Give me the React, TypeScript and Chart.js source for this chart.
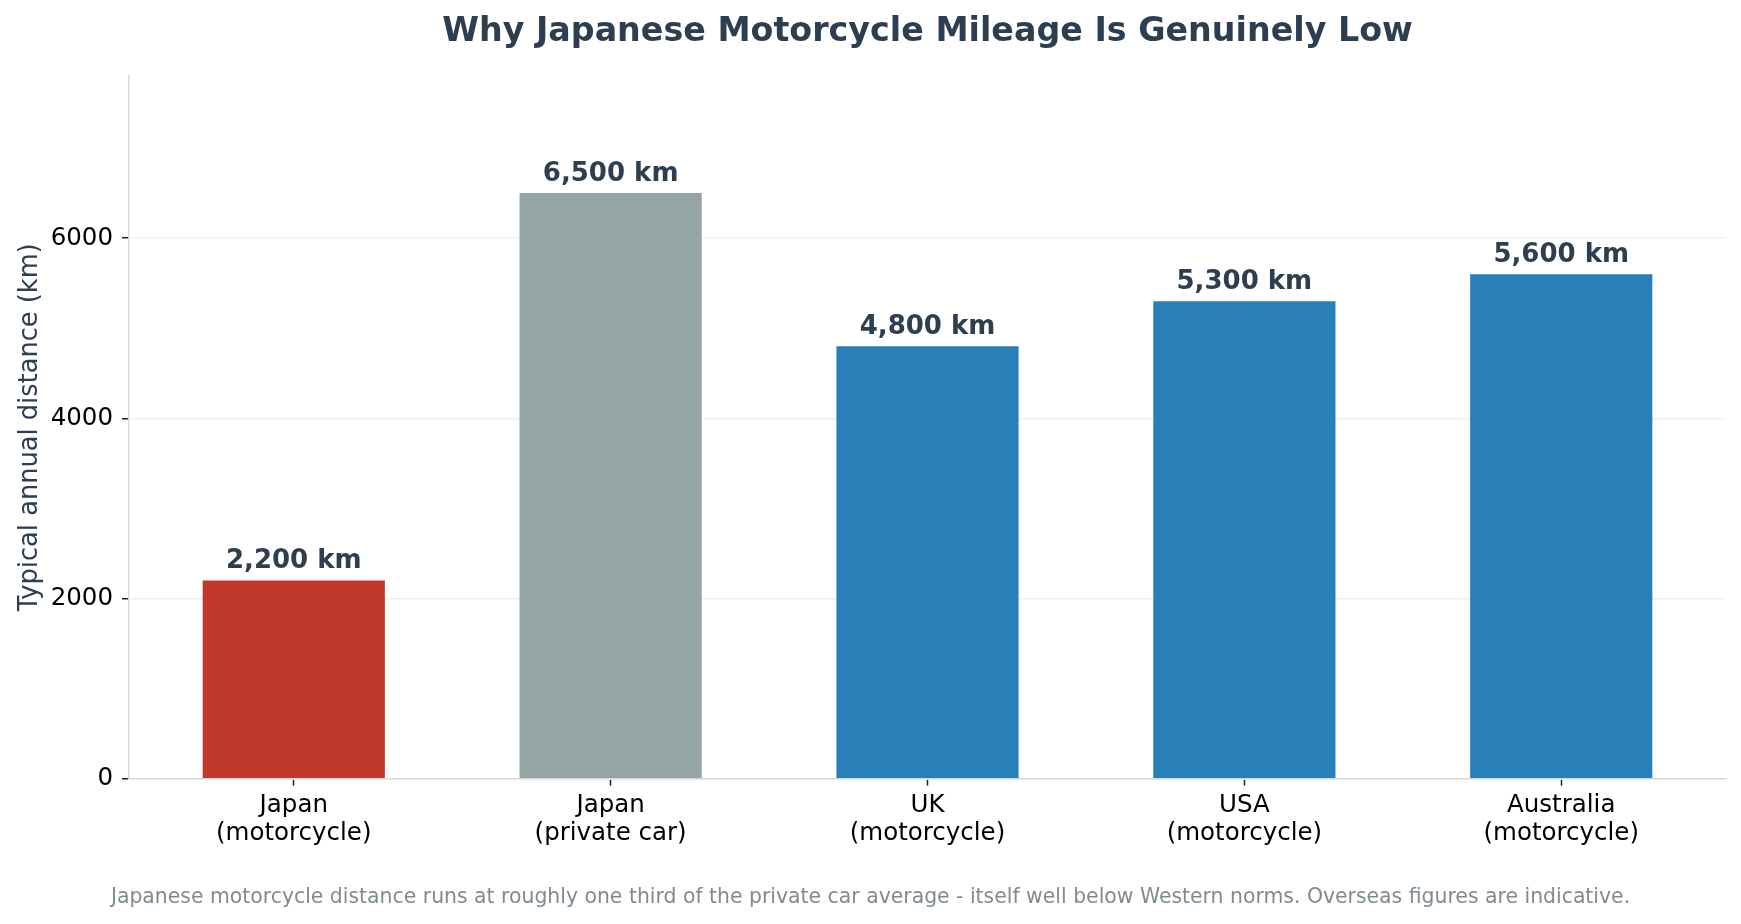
import { useEffect, useRef } from 'react';
import { Chart, registerables } from 'chart.js';

Chart.register(...registerables);

// chart data
const categories: string[][] = [
  ['Japan', '(motorcycle)'],
  ['Japan', '(private car)'],
  ['UK', '(motorcycle)'],
  ['USA', '(motorcycle)'],
  ['Australia', '(motorcycle)'],
];
const distances: number[] = [2200, 6500, 4800, 5300, 5600];
const barColors: string[] = ['#c0392b', '#95a5a6', '#2980b9', '#2980b9', '#2980b9'];
const yTicks: number[] = [0, 2000, 4000, 6000];

const TITLE = 'Why Japanese Motorcycle Mileage Is Genuinely Low';
const FOOTNOTE =
  'Japanese motorcycle distance runs at roughly one third of the private car average - itself well below Western norms. Overseas figures are indicative.';
const FONT = '"DejaVu Sans", sans-serif';

// title centred over the plot area, like the original
const titlePlugin = {
  id: 'plotTitle',
  afterDraw(chart: Chart) {
    const { ctx, chartArea } = chart;
    ctx.save();
    ctx.font = `bold 33.3px ${FONT}`;
    ctx.fillStyle = '#2c3e50';
    ctx.textAlign = 'center';
    ctx.textBaseline = 'middle';
    ctx.fillText(TITLE, (chartArea.left + chartArea.right) / 2, 32);
    ctx.restore();
  },
};

// "x,xxx km" labels above each bar
const valueLabels = {
  id: 'valueLabels',
  afterDatasetsDraw(chart: Chart) {
    const { ctx } = chart;
    const meta = chart.getDatasetMeta(0);
    ctx.save();
    ctx.font = `bold 26px ${FONT}`;
    ctx.fillStyle = '#2c3e50';
    ctx.textAlign = 'center';
    ctx.textBaseline = 'middle';
    meta.data.forEach((bar, i) => {
      const label = `${distances[i].toLocaleString('en-US')} km`;
      ctx.fillText(label, bar.x, bar.y - 19);
    });
    ctx.restore();
  },
};

export default function App() {
  const chartRef = useRef<HTMLCanvasElement>(null);

  useEffect(() => {
    document.body.style.margin = '0';
    if (!chartRef.current) return;

    const chart = new Chart(chartRef.current, {
      type: 'bar',
      data: {
        datasets: [
          {
            data: distances.map((v, i) => ({ x: i, y: v })),
            backgroundColor: barColors,
            borderWidth: 0,
            barPercentage: 0.575,
            categoryPercentage: 1,
          },
        ],
      },
      options: {
        responsive: false,
        animation: false,
        devicePixelRatio: 1,
        layout: {
          padding: { top: 76, right: 15, left: 15, bottom: 0 },
        },
        plugins: {
          legend: { display: false },
          tooltip: { enabled: false },
          title: { display: false },
          subtitle: {
            display: true,
            position: 'bottom',
            text: FOOTNOTE,
            color: '#7f8c8d',
            font: { family: FONT, size: 20.4, weight: 'normal', lineHeight: 1.2 },
            padding: { top: 32.5, bottom: 14 },
          },
        },
        scales: {
          x: {
            type: 'linear',
            min: -0.52,
            max: 4.52,
            offset: false,
            afterBuildTicks: (scale) => {
              scale.ticks = categories.map((_, i) => ({ value: i }));
            },
            grid: {
              display: true,
              offset: false,
              drawOnChartArea: false,
              drawTicks: true,
              tickLength: 7,
              tickColor: '#222222',
              tickWidth: 1.5,
            },
            border: { display: true, color: '#d5dbdb', width: 1.5 },
            ticks: {
              color: '#000000',
              padding: 6,
              font: { family: FONT, size: 24.5, lineHeight: 1.13 },
              maxRotation: 0,
              autoSkip: false,
              callback: (value) => categories[Number(value)] ?? '',
            },
          },
          y: {
            type: 'linear',
            min: 0,
            max: 7800,
            afterFit: (scale) => {
              scale.width = 114;
            },
            afterBuildTicks: (scale) => {
              scale.ticks = yTicks.map((v) => ({ value: v }));
            },
            ticks: {
              color: '#000000',
              padding: 9,
              font: { family: FONT, size: 24.5 },
              callback: (value) => String(value),
            },
            grid: {
              color: '#ecf0f1',
              lineWidth: 1.5,
              tickLength: 7,
              tickColor: '#222222',
              tickWidth: 1.5,
            },
            border: { display: true, color: '#d5dbdb', width: 1.5 },
            title: {
              display: true,
              text: 'Typical annual distance (km)',
              color: '#2c3e50',
              font: { family: FONT, size: 25.7 },
              padding: { top: 0, bottom: 0 },
            },
          },
        },
      },
      plugins: [titlePlugin, valueLabels],
    });

    return () => chart.destroy();
  }, []);

  return (
    <div style={{ width: 1741, height: 924, background: '#ffffff' }}>
      <canvas ref={chartRef} width={1741} height={924} />
    </div>
  );
}
